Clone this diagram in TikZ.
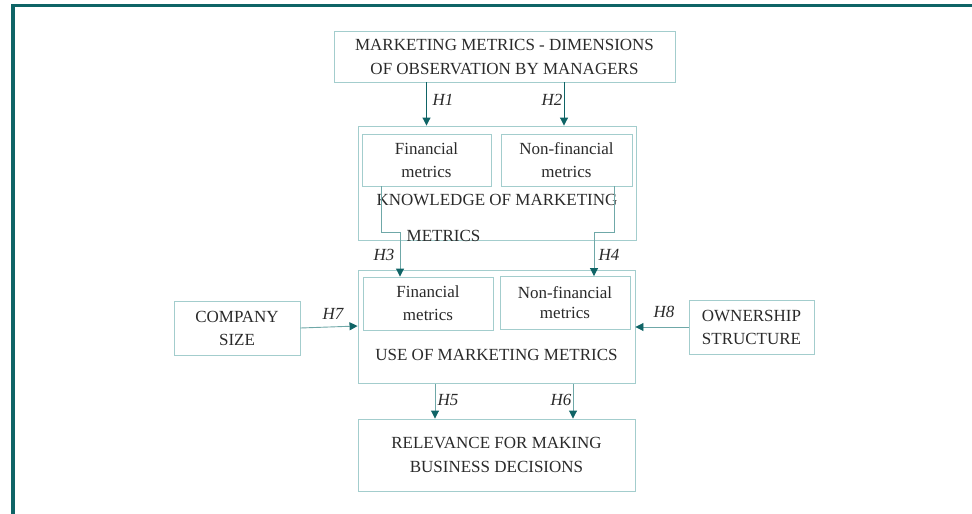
\documentclass[tikz,border=0pt]{standalone}
\usepackage{fontspec}
\setmainfont{Liberation Serif}
\usetikzlibrary{arrows.meta}
\definecolor{framecol}{HTML}{0F6466}
\definecolor{boxcol}{HTML}{A3CDCD}
\definecolor{linecol}{HTML}{6FA8A8}
\definecolor{tipcol}{HTML}{0F6466}
\definecolor{txtcol}{HTML}{2A2A2A}
\begin{document}
\begin{tikzpicture}[x=1pt,y=-1pt,
  box/.style={draw=boxcol,line width=0.9pt,rectangle,inner sep=0pt,
    align=center,text=txtcol,font=\fontsize{17}{23}\selectfont},
  lbl/.style={text=txtcol,font=\fontsize{17}{20}\selectfont,inner sep=0pt},
  hyp/.style={text=txtcol,font=\fontsize{17}{20}\selectfont\itshape,inner sep=0pt},
  conn/.style={draw=linecol,line width=0.9pt,
    -{Triangle[width=8pt,length=8pt,color=tipcol]}},
  darkconn/.style={draw=tipcol,line width=1pt,
    -{Triangle[width=8pt,length=8pt,color=tipcol]}}]
\useasboundingbox (0,0) rectangle (972,514);
% frame rules along the top and the left edge
\draw[framecol,line width=3.5pt] (13,514) -- (13,5.5) -- (972,5.5);

% boxes
\node[box,minimum width=341,minimum height=51,
  font=\fontsize{17}{24}\selectfont] (top) at (504.5,56.5)
  {MARKETING METRICS - DIMENSIONS\\OF OBSERVATION BY MANAGERS};
\node[box,minimum width=278,minimum height=114] (know) at (497,183) {};
\node[box,minimum width=129,minimum height=52] (kf) at (426.5,160) {Financial\\metrics};
\node[box,minimum width=131,minimum height=52] (kn) at (566.5,160) {Non-financial\\metrics};
\node[lbl] (knowt1) at (497,200) {KNOWLEDGE OF MARKETING};
\node[lbl] (knowt2) at (443.5,236) {METRICS};

\node[box,minimum width=277,minimum height=113] (use) at (496.5,327) {};
\node[box,minimum width=130,minimum height=53] (uf) at (428,303.5) {Financial\\metrics};
\node[box,minimum width=130,minimum height=53,
  font=\fontsize{17}{20}\selectfont] (un) at (565,303) {Non-financial\\metrics};
\node[lbl] (uset) at (496.5,355) {USE OF MARKETING METRICS};

\node[box,minimum width=126,minimum height=54] (cs) at (237,328) {COMPANY\\SIZE};
\node[box,minimum width=125,minimum height=54] (os) at (751.5,327) {OWNERSHIP\\STRUCTURE};
\node[box,minimum width=277,minimum height=72,
  font=\fontsize{17}{24}\selectfont] (rel) at (496.5,455)
  {RELEVANCE FOR MAKING\\BUSINESS DECISIONS};

% hypotheses
\draw[darkconn] (top.south -| kf) -- (know.north -| kf);
\draw[darkconn] (top.south -| 564,0) -- (know.north -| 564,0);
\node[hyp] (h1) at (443,100) {H1};
\node[hyp] (h2) at (552,100) {H2};

\draw[conn] ([xshift=-45.5]kf.south) -- ++(0,46) -| ([xshift=-28]uf.north);
\draw[conn] ([xshift=47.5]kn.south) -- ++(0,46) -| ([xshift=29]un.north);
\node[hyp] (h3) at (384,255) {H3};
\node[hyp] (h4) at (609,255) {H4};

\draw[conn] (cs.east) -- ([yshift=1]use.west);
\node[hyp] (h7) at (333,314) {H7};
\draw[conn] (os.west) -- (use.east |- os.west);
\node[hyp] (h8) at (664,312) {H8};

\draw[conn] (use.south -| 435,0) -- (rel.north -| 435,0);
\draw[conn] (use.south -| 573,0) -- (rel.north -| 573,0);
\node[hyp] (h5) at (448,400) {H5};
\node[hyp] (h6) at (561,400) {H6};
\end{tikzpicture}
\end{document}
